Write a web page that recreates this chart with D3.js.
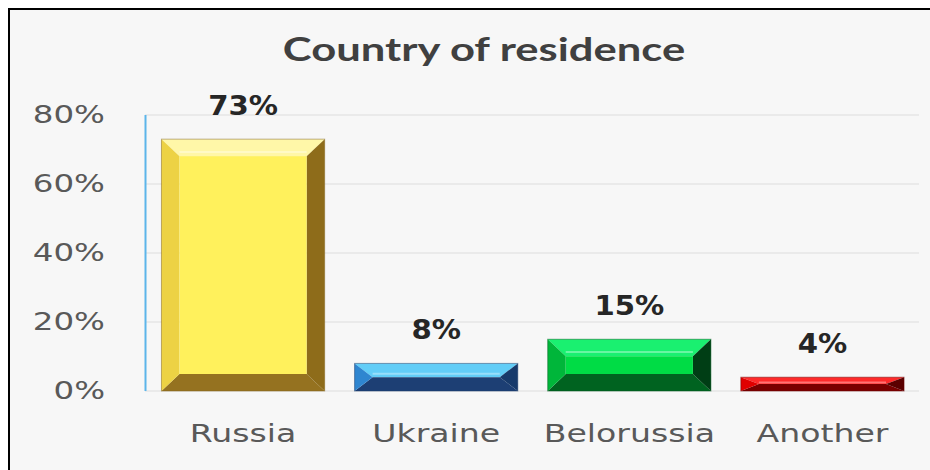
<!DOCTYPE html>
<html><head><meta charset="utf-8">
<script src="https://cdn.jsdelivr.net/npm/d3@7"></script>
<style>body{margin:0;background:#fff}svg{display:block}</style>
</head><body>
<script>
const categories = ["Russia", "Ukraine", "Belorussia", "Another"];
const values = [73, 8, 15, 4];
const tickValues = [0, 20, 40, 60, 80];
const title = "Country of residence";
const palettes = [
  {face:"#FFF15C", top:"#FFF7A8", left:"#EDD244", right:"#8E6C1A", bottom:"#957220"},
  {face:"#4CC0F2", top:"#62CDF7", left:"#2F86D0", right:"#173A6B", bottom:"#1D3F74"},
  {face:"#00DC45", top:"#1AF070", left:"#00B63A", right:"#003E15", bottom:"#006320"},
  {face:"#FF0000", top:"#FF2A2A", left:"#E00000", right:"#5A0000", bottom:"#7A0000"}
];

const W = 930, H = 470;
const svg = d3.select("body").append("svg").attr("width", W).attr("height", H);
svg.append("rect").attr("width", W).attr("height", H).attr("fill", "#fff");
svg.append("rect").attr("x", 9).attr("y", 9).attr("width", W + 20).attr("height", H + 20)
  .attr("fill", "#F7F7F7").attr("stroke", "#000").attr("stroke-width", 2);

const x = d3.scaleBand().domain(categories).range([146.5, 919]).paddingInner(0.155).paddingOuter(0.0775);
const y = d3.scaleLinear().domain([0, 80]).range([391, 115]);

// gridlines
svg.append("g").selectAll("line").data(tickValues).join("line")
  .attr("x1", 145).attr("x2", 919).attr("y1", d => y(d)).attr("y2", d => y(d))
  .attr("stroke", "#E6E6E6").attr("stroke-width", 1.3);

// axis line (blue)
svg.append("line").attr("x1", 145.5).attr("x2", 145.5).attr("y1", y(80)).attr("y2", y(0))
  .attr("stroke", "#5CB5EA").attr("stroke-width", 2);

function stretchedText(g, tx, ty, txt, size, weight, fam, sx, anchor, fill) {
  return g.append("text")
    .attr("transform", `translate(${tx},${ty}) scale(${sx},1)`)
    .attr("text-anchor", anchor).attr("dominant-baseline", "middle")
    .attr("font-family", fam).attr("font-size", size).attr("font-weight", weight)
    .attr("fill", fill).text(txt);
}

// y tick labels
const yl = svg.append("g");
tickValues.forEach(t => stretchedText(yl, 105, y(t) + 1, t + "%", 25, "normal", "DejaVu Sans", 1.3, "end", "#595959"));

// x labels
const xl = svg.append("g");
categories.forEach(c => stretchedText(xl, x(c) + x.bandwidth() / 2, 435, c, 25.5, "normal", "DejaVu Sans", 1.3, "middle", "#595959"));

// title
stretchedText(svg, 484, 53, title, 33, "bold", "Lato", 1.32, "middle", "#404040");

// bars with bevel
const bars = svg.append("g");
categories.forEach((c, i) => {
  const v = values[i], p = palettes[i];
  const x0 = x(c), x1 = x0 + x.bandwidth(), y0 = y(v), y1 = y(0);
  const h = y1 - y0;
  const bx = 18, by = Math.min(17, h / 2);
  const g = bars.append("g");
  const poly = (pts, fill) => g.append("polygon").attr("points", pts.map(q => q.join(",")).join(" ")).attr("fill", fill);
  poly([[x0, y0], [x1, y0], [x1 - bx, y0 + by], [x0 + bx, y0 + by]], p.top);
  poly([[x0, y1], [x1, y1], [x1 - bx, y1 - by], [x0 + bx, y1 - by]], p.bottom);
  poly([[x0, y0], [x0 + bx, y0 + by], [x0 + bx, y1 - by], [x0, y1]], p.left);
  poly([[x1, y0], [x1 - bx, y0 + by], [x1 - bx, y1 - by], [x1, y1]], p.right);
  if (h - 2 * by > 0) g.append("rect").attr("x", x0 + bx).attr("y", y0 + by).attr("width", x1 - x0 - 2 * bx).attr("height", h - 2 * by).attr("fill", p.face);
  // highlight line on top bevel
  g.append("line").attr("x1", x0 + bx).attr("x2", x1 - bx).attr("y1", y0 + by * 0.75).attr("y2", y0 + by * 0.75)
    .attr("stroke", "#fff").attr("stroke-opacity", 0.35).attr("stroke-width", 2);
  g.append("rect").attr("x", x0).attr("y", y0).attr("width", x1 - x0).attr("height", h)
    .attr("fill", "none").attr("stroke", d3.color(p.bottom).darker(0.3)).attr("stroke-opacity", 0.5).attr("stroke-width", 1);
  // data label
  stretchedText(bars, (x0 + x1) / 2, y0 - 32, v + "%", 27, "bold", "DejaVu Sans", 1.08, "middle", "#262626");
});
</script>
</body></html>
